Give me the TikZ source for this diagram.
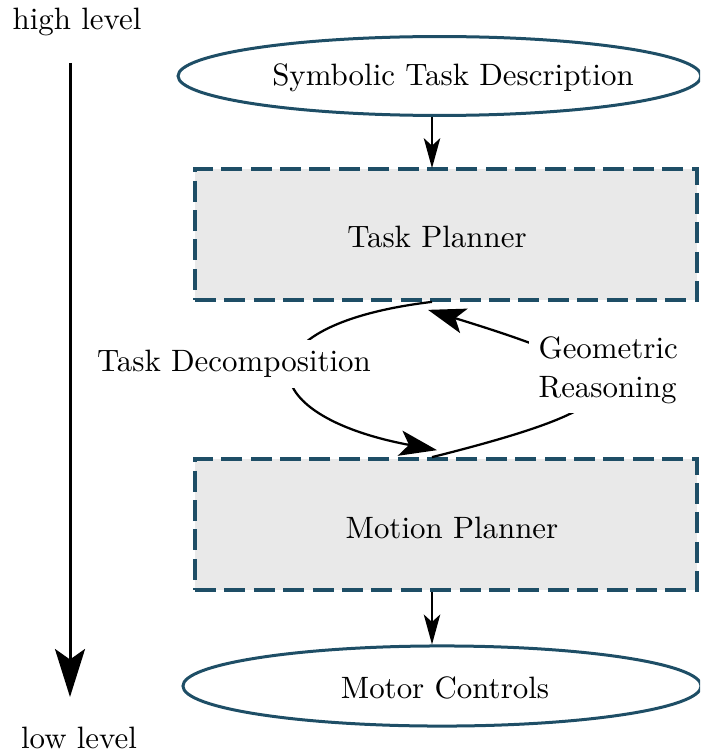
\documentclass[tikz,border=0pt]{standalone}
\usetikzlibrary{shapes.geometric,arrows.meta,calc}
\definecolor{bordc}{RGB}{30,78,102}
\definecolor{boxfill}{RGB}{233,233,233}
\begin{document}
\begin{tikzpicture}[x=0.3333pt,y=-0.3333pt,
  every node/.style={font=\fontsize{10.3}{13}\selectfont, text=black},
  ellnode/.style={ellipse, draw=bordc, line width=1pt, inner sep=0pt},
  planbox/.style={rectangle, draw=bordc, fill=boxfill, line width=1.2pt, dash pattern=on 7pt off 2.8pt, inner sep=0pt},
  txt/.style={inner sep=0pt},
  smallarr/.style={-{Stealth[length=10pt,width=5.5pt,inset=2.5pt]}, line width=0.6pt},
  bentarr/.style={-{Stealth[length=12.5pt,width=8.5pt,inset=3pt]}, line width=0.75pt},
  levelarr/.style={-{Stealth[length=16pt,width=10pt,inset=3.5pt]}, line width=1pt},
  lbl/.style={fill=white, inner sep=3.3pt}
]
\useasboundingbox (0,0) rectangle (700,751);
\clip (0,0) rectangle (700,751);

% level axis
\node[txt] (hl) at (77,22) {high level};
\node[txt] (ll) at (79,738) {low level};
\coordinate (axtop) at (70,63);
\coordinate (axbot) at (70,697);
\draw[levelarr] (axtop) -- (axbot);

% nodes
\node[ellnode, minimum width=174.3pt, minimum height=26.3pt] (sym) at (439.5,76) {};
\node[txt] (symt) at (453,78) {Symbolic Task Description};

\node[planbox, minimum width=167.3pt, minimum height=43.7pt] (tp) at (446,234.5) {};
\node[txt] (tpt) at (437,237) {Task Planner};

\node[planbox, minimum width=167.3pt, minimum height=43.7pt] (mp) at (446,524.5) {};
\node[txt] (mpt) at (452,528) {Motion Planner};

\node[ellnode, minimum width=172.7pt, minimum height=26.7pt] (mc) at (442,686) {};
\node[txt] (mct) at (445,688) {Motor Controls};

% straight arrows
\draw[smallarr] ($(sym.south)+(-7.5,0)$) -- ($(tp.north)+(-14,1)$);
\draw[smallarr] ($(mp.south)+(-14,0)$) -- ($(mc.north)+(-10,0)$);

% bent arrows
\draw[bentarr] ($(tp.south)+(-14,0)$) .. controls (240,325) and (250,415) .. ($(mp.north)+(-9,-7)$);
\draw[bentarr] ($(mp.north)+(-14,0)$) .. controls (660,400) and (640,375) .. ($(tp.south)+(-18,8)$);

\node[lbl] (td) at (234,364) {Task Decomposition};
\node[lbl, align=left, anchor=west] (gr) at (528,370) {Geometric\\Reasoning};
\end{tikzpicture}
\end{document}
